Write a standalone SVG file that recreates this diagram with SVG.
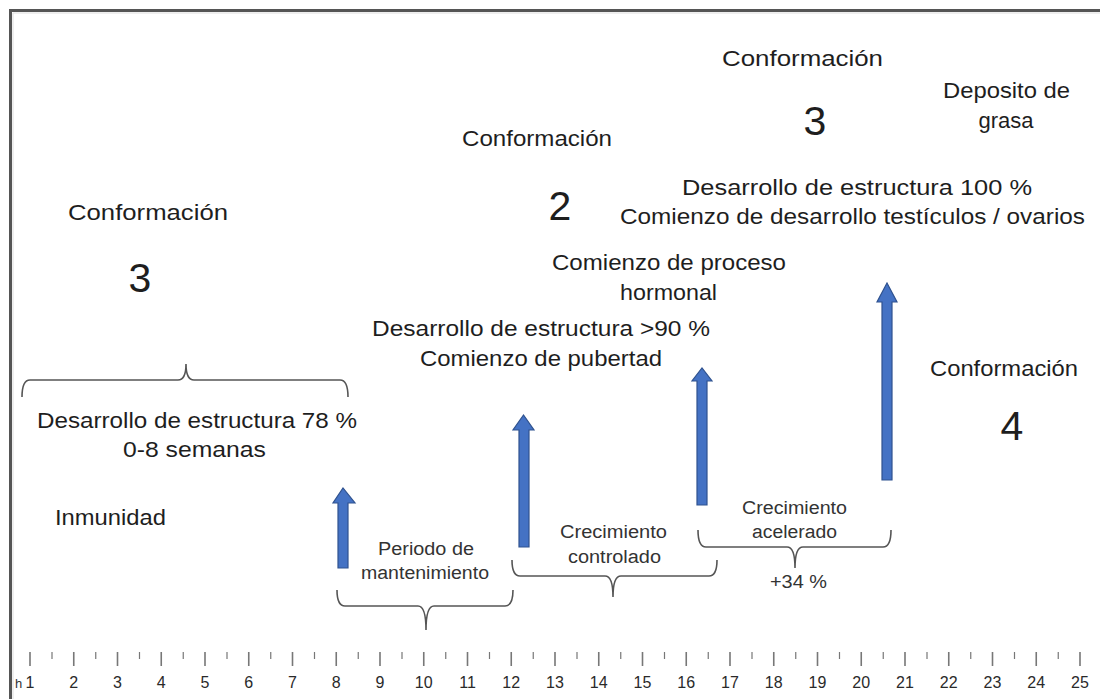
<svg xmlns="http://www.w3.org/2000/svg" width="1100" height="699" viewBox="0 0 1100 699">
<defs>
<style>
text{font-family:"Liberation Sans",Arial,sans-serif;fill:#1e1e1e}
.m{font-size:22px}
.s{font-size:18px;fill:#333}
.big{font-size:41px;text-anchor:middle}
.r{font-size:16px;text-anchor:middle;fill:#2a2a2a}
.br{fill:none;stroke:#555;stroke-width:1.6}
.tk{stroke:#777;stroke-width:1.6}
.ar{fill:#4472C4;stroke:#2F528F;stroke-width:1.2}
</style>
</defs>
<rect width="1100" height="699" fill="#fff"/>
<path d="M10.5 720 V10.5 H1110" fill="none" stroke="#555" stroke-width="3"/>
<path d="M13 720 V13 H1110" fill="none" stroke="#ddd" stroke-width="1"/>

<g id="conf-left">
<text class="m" x="68" y="220" textLength="160" lengthAdjust="spacingAndGlyphs">Conformación</text>
<text class="big" x="140" y="292">3</text>
</g>
<g id="conf-mid">
<text class="m" x="462" y="146" textLength="150" lengthAdjust="spacingAndGlyphs">Conformación</text>
<text class="big" x="560" y="220">2</text>
</g>
<g id="conf-top">
<text class="m" x="722" y="66" textLength="161" lengthAdjust="spacingAndGlyphs">Conformación</text>
<text class="big" x="815" y="135">3</text>
</g>
<g id="grasa">
<text class="m" x="943" y="98" textLength="127" lengthAdjust="spacingAndGlyphs">Deposito de</text>
<text class="m" x="1006" y="128" text-anchor="middle">grasa</text>
</g>
<g id="conf-right">
<text class="m" x="930" y="376" textLength="148" lengthAdjust="spacingAndGlyphs">Conformación</text>
<text class="big" x="1012" y="440">4</text>
</g>
<g id="des100">
<text class="m" x="682" y="195" textLength="350" lengthAdjust="spacingAndGlyphs">Desarrollo de estructura 100 %</text>
<text class="m" x="620" y="224" textLength="465" lengthAdjust="spacingAndGlyphs">Comienzo de desarrollo testículos / ovarios</text>
</g>
<g id="hormonal">
<text class="m" x="552" y="270" textLength="234" lengthAdjust="spacingAndGlyphs">Comienzo de proceso</text>
<text class="m" x="620" y="300" textLength="97" lengthAdjust="spacingAndGlyphs">hormonal</text>
</g>
<g id="des90">
<text class="m" x="372" y="336" textLength="338" lengthAdjust="spacingAndGlyphs">Desarrollo de estructura &gt;90 %</text>
<text class="m" x="420" y="366" textLength="242" lengthAdjust="spacingAndGlyphs">Comienzo de pubertad</text>
</g>
<g id="des78">
<text class="m" x="37" y="428" textLength="320" lengthAdjust="spacingAndGlyphs">Desarrollo de estructura 78 %</text>
<text class="m" x="123" y="457" textLength="143" lengthAdjust="spacingAndGlyphs">0-8 semanas</text>
</g>
<g id="inmunidad">
<text class="m" x="55" y="525" textLength="111" lengthAdjust="spacingAndGlyphs">Inmunidad</text>
</g>
<g id="mantenimiento">
<text class="s" x="378" y="555" textLength="96" lengthAdjust="spacingAndGlyphs">Periodo de</text>
<text class="s" x="361" y="579" textLength="128" lengthAdjust="spacingAndGlyphs">mantenimiento</text>
</g>
<g id="controlado">
<text class="s" x="560" y="538" textLength="107" lengthAdjust="spacingAndGlyphs">Crecimiento</text>
<text class="s" x="568" y="563" textLength="93" lengthAdjust="spacingAndGlyphs">controlado</text>
</g>
<g id="acelerado">
<text class="s" x="742" y="514" textLength="105" lengthAdjust="spacingAndGlyphs">Crecimiento</text>
<text class="s" x="752" y="538" textLength="85" lengthAdjust="spacingAndGlyphs">acelerado</text>
<text class="s" x="770" y="588" textLength="57" lengthAdjust="spacingAndGlyphs">+34 %</text>
</g>

<g id="connectors">
<path class="br" d="M22 397 Q22 380 30 380 H178 Q186 380 186 364 Q186 380 194 380 H340 Q348 380 348 397"/>
<path class="br" d="M337 590 Q337 606 345 606 H418 Q426 606 426 630 Q426 606 434 606 H505 Q513 606 513 590"/>
<path class="br" d="M512 560 Q512 576 520 576 H605 Q613 576 613 597 Q613 576 621 576 H709 Q717 576 717 560"/>
<path class="br" d="M698 530 Q698 547 706 547 H787 Q795 547 795 568 Q795 547 803 547 H883 Q891 547 891 530"/>
<polygon class="ar" points="338,568 348,568 348,503 355,503 343,488 333,503 338,503"/>
<polygon class="ar" points="519,547 529,547 529,430 534,430 523.5,415 513,430 519,430"/>
<polygon class="ar" points="697,505 707,505 707,381 712,381 702,368 692,381 697,381"/>
<polygon class="ar" points="882,480 892,480 892,302 897,302 887,283 877,302 882,302"/>
</g>

<g id="ruler">
<g class="tk">
<path d="M30 652V666M73.75 652V666M117.5 652V666M161.25 652V666M205 652V666M248.75 652V666M292.5 652V666M336.25 652V666M380 652V666M423.75 652V666M467.5 652V666M511.25 652V666M555 652V666M598.75 652V666M642.5 652V666M686.25 652V666M730 652V666M773.75 652V666M817.5 652V666M861.25 652V666M905 652V666M948.75 652V666M992.5 652V666M1036.25 652V666M1080 652V666"/>
<path stroke-width="1.2" d="M52 652V659M95.75 652V659M139.5 652V659M183.25 652V659M227 652V659M270.75 652V659M314.5 652V659M358.25 652V659M402 652V659M445.75 652V659M489.5 652V659M533.25 652V659M577 652V659M620.75 652V659M664.5 652V659M708.25 652V659M752 652V659M795.75 652V659M839.5 652V659M883.25 652V659M927 652V659M970.75 652V659M1014.5 652V659M1058.25 652V659"/>
</g>
<text x="15" y="688" style="font-size:13px;fill:#333">h</text>
<text class="r" x="30" y="688">1</text>
<text class="r" x="73.75" y="688">2</text>
<text class="r" x="117.5" y="688">3</text>
<text class="r" x="161.25" y="688">4</text>
<text class="r" x="205" y="688">5</text>
<text class="r" x="248.75" y="688">6</text>
<text class="r" x="292.5" y="688">7</text>
<text class="r" x="336.25" y="688">8</text>
<text class="r" x="380" y="688">9</text>
<text class="r" x="423.75" y="688">10</text>
<text class="r" x="467.5" y="688">11</text>
<text class="r" x="511.25" y="688">12</text>
<text class="r" x="555" y="688">13</text>
<text class="r" x="598.75" y="688">14</text>
<text class="r" x="642.5" y="688">15</text>
<text class="r" x="686.25" y="688">16</text>
<text class="r" x="730" y="688">17</text>
<text class="r" x="773.75" y="688">18</text>
<text class="r" x="817.5" y="688">19</text>
<text class="r" x="861.25" y="688">20</text>
<text class="r" x="905" y="688">21</text>
<text class="r" x="948.75" y="688">22</text>
<text class="r" x="992.5" y="688">23</text>
<text class="r" x="1036.25" y="688">24</text>
<text class="r" x="1080" y="688">25</text>
</g>
</svg>
